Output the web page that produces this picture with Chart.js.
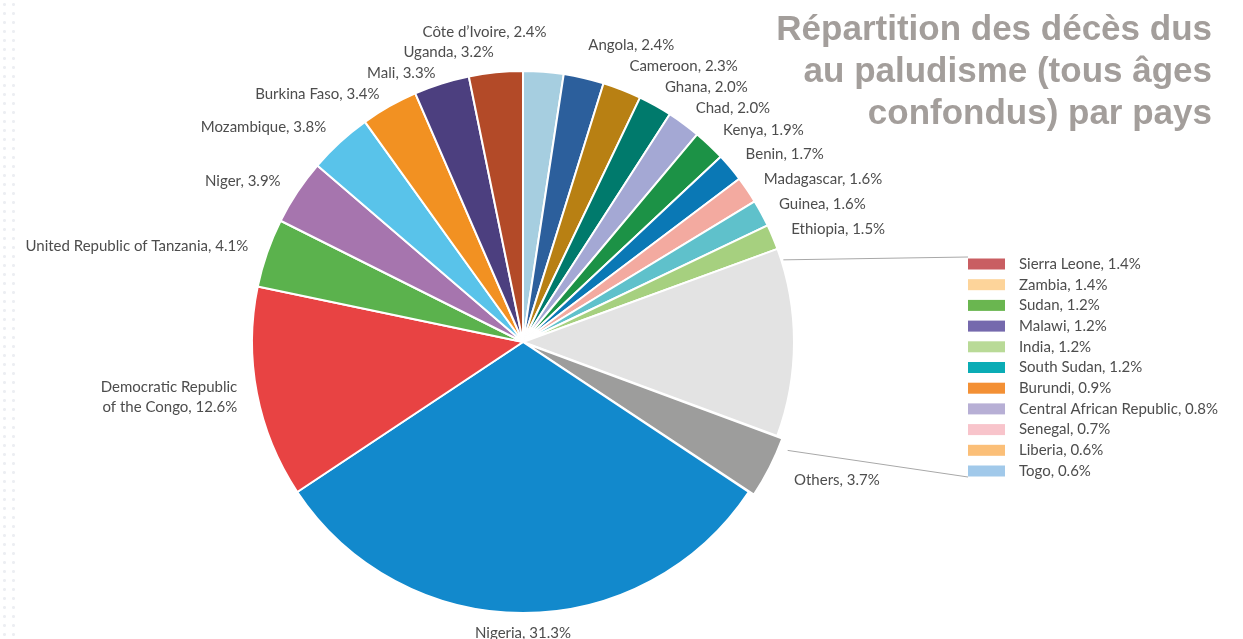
<!DOCTYPE html>
<html>
<head>
<meta charset="utf-8">
<script src="https://cdn.jsdelivr.net/npm/chart.js@4/dist/chart.umd.min.js"></script>
<style>
  html, body { margin: 0; padding: 0; background: #fff; }
  #wrap { position: relative; width: 1243px; height: 639px; overflow: hidden; }
  #dots { position: absolute; left: 0; top: 0; width: 18px; height: 639px;
    background-image: radial-gradient(circle, #eceef2 1.3px, transparent 1.6px);
    background-size: 9px 9px; }
  #titre { position: absolute; right: 31px; top: 7px; text-align: right;
    font-family: "Liberation Sans", Arial, sans-serif; font-weight: bold;
    font-size: 35px; line-height: 42px; color: #a39e9b; }
  canvas { position: absolute; left: 0; top: 0; }
</style>
</head>
<body>
<div id="wrap">
  <div id="dots"></div>
  <canvas id="camembert" width="1243" height="639"></canvas>
  <div id="titre">Répartition des décès dus<br>au paludisme (tous âges<br>confondus) par pays</div>
</div>
<script>
// Données du camembert (ordre horaire depuis le haut)
const pays = ["Côte d’Ivoire", 'Angola', 'Cameroon', 'Ghana', 'Chad', 'Kenya', 'Benin',
  'Madagascar', 'Guinea', 'Ethiopia', '', 'Others', 'Nigeria',
  ['Democratic Republic', 'of the Congo'], 'United Republic of Tanzania', 'Niger',
  'Mozambique', 'Burkina Faso', 'Mali', 'Uganda'];
const parts = [2.4, 2.4, 2.3, 2.0, 2.0, 1.9, 1.7, 1.6, 1.6, 1.5, 11.2, 3.7, 31.3,
  12.6, 4.1, 3.9, 3.8, 3.4, 3.3, 3.2];
const couleurs = ['#a6cee0', '#2c5f9c', '#b88013', '#007a6c', '#a4a8d4', '#1c9246', '#0a78b5',
  '#f3aaa0', '#5fc1cb', '#a6d07f', '#e3e3e3', '#9d9d9c', '#1289cc',
  '#e84343', '#5bb24d', '#a675ae', '#59c3ea', '#f29122', '#4c3f7f', '#b34a28'];

// Détail de la part grise (légende à droite)
const autresPays = ['Sierra Leone', 'Zambia', 'Sudan', 'Malawi', 'India', 'South Sudan',
  'Burundi', 'Central African Republic', 'Senegal', 'Liberia', 'Togo'];
const autresParts = [1.4, 1.4, 1.2, 1.2, 1.2, 1.2, 0.9, 0.8, 0.7, 0.6, 0.6];
const autresCouleurs = ['#c95e62', '#fdd49a', '#6ab650', '#7569ad', '#b9da97', '#0aacb5',
  '#f39035', '#b7afd5', '#f8c4cb', '#fbbf78', '#a1c9ea'];

const POLICE = '15px Lato, "Open Sans", sans-serif';
const TEXTE = '#4d4d4d';
const iGroupe = 10;
const iOthers = 11;
const ECART = 21;

const etiquettes = {
  id: 'etiquettes',
  afterDatasetsDraw(chart) {
    const ctx = chart.ctx;
    const meta = chart.getDatasetMeta(0);
    ctx.save();
    ctx.font = POLICE;
    ctx.fillStyle = TEXTE;

    // position de base de chaque étiquette
    const lab = [];
    meta.data.forEach((arc, i) => {
      if (i === iGroupe) return;
      const p = arc.getProps(['x', 'y', 'startAngle', 'endAngle', 'outerRadius']);
      const mid = (p.startAngle + p.endAngle) / 2;
      let deg = (mid * 180 / Math.PI + 90) % 360;
      if (deg < 0) deg += 360;
      const off = arc.options.offset || 0;
      let r = p.outerRadius + 20 + off;
      let lignes = Array.isArray(pays[i]) ? pays[i].slice() : [pays[i]];
      lignes[lignes.length - 1] += ', ' + parts[i].toFixed(1) + '%';
      let align, groupe = null;
      if (deg < 8) { align = 'right'; r += 20; }
      else if (Math.abs(deg - 180) < 10) { align = 'center'; }
      else if (deg < 180) { align = 'left'; if (deg < 90) groupe = 'droite'; }
      else { align = 'right'; if (deg > 270) groupe = 'gauche'; }
      lab.push({ i, lignes, align, groupe,
        x: p.x + Math.cos(mid) * r, y: p.y + Math.sin(mid) * r });
    });

    // éviter les chevauchements : à droite on remonte, à gauche on descend
    const droite = lab.filter(l => l.groupe === 'droite').sort((a, b) => b.y - a.y);
    for (let k = 1; k < droite.length; k++) {
      droite[k].y = Math.min(droite[k].y, droite[k - 1].y - ECART);
    }
    const gauche = lab.filter(l => l.groupe === 'gauche').sort((a, b) => a.y - b.y);
    for (let k = 1; k < gauche.length; k++) {
      gauche[k].y = Math.max(gauche[k].y, gauche[k - 1].y + ECART);
    }

    lab.forEach(l => {
      ctx.textAlign = l.align;
      ctx.textBaseline = 'middle';
      const h = 20;
      const y0 = l.y - (l.lignes.length - 1) * h / 2;
      l.lignes.forEach((t, k) => ctx.fillText(t, l.x, y0 + k * h));
    });

    // Légende de la part grise + traits de rappel
    const lx = 968, ly = 264, pas = 20.7;
    const g = meta.data[iGroupe].getProps(['x', 'y', 'startAngle', 'endAngle', 'outerRadius']);
    const o = meta.data[iOthers];
    const a1 = g.startAngle + 0.045;
    const a2 = g.endAngle + 0.035;
    const r2 = g.outerRadius + (o.options.offset || 0) + 2;
    ctx.strokeStyle = '#a8a8a8';
    ctx.lineWidth = 1;
    ctx.beginPath();
    ctx.moveTo(g.x + Math.cos(a1) * (g.outerRadius + 2), g.y + Math.sin(a1) * (g.outerRadius + 2));
    ctx.lineTo(lx, ly - 7);
    ctx.moveTo(g.x + Math.cos(a2) * r2, g.y + Math.sin(a2) * r2);
    ctx.lineTo(lx, ly + pas * (autresPays.length - 1) + 6);
    ctx.stroke();

    ctx.textAlign = 'left';
    ctx.textBaseline = 'middle';
    autresPays.forEach((nom, k) => {
      const yy = ly + k * pas;
      ctx.fillStyle = autresCouleurs[k];
      ctx.fillRect(lx, yy - 5.5, 37, 11);
      ctx.fillStyle = TEXTE;
      ctx.fillText(nom + ', ' + autresParts[k].toFixed(1) + '%', lx + 51, yy);
    });
    ctx.restore();
  }
};

const ctxCamembert = document.getElementById('camembert').getContext('2d');
const graphique = new Chart(ctxCamembert, {
  type: 'pie',
  data: {
    labels: pays,
    datasets: [{
      data: parts,
      backgroundColor: couleurs,
      borderColor: '#ffffff',
      borderWidth: 2,
      offset: parts.map((v, i) => i === iOthers ? 13 : 0)
    }]
  },
  options: {
    responsive: false,
    animation: false,
    radius: 271,
    layout: { padding: { left: 0, right: 197, top: 45, bottom: 0 } },
    plugins: {
      legend: { display: false },
      tooltip: { enabled: false }
    }
  },
  plugins: [etiquettes]
});
</script>
</body>
</html>
